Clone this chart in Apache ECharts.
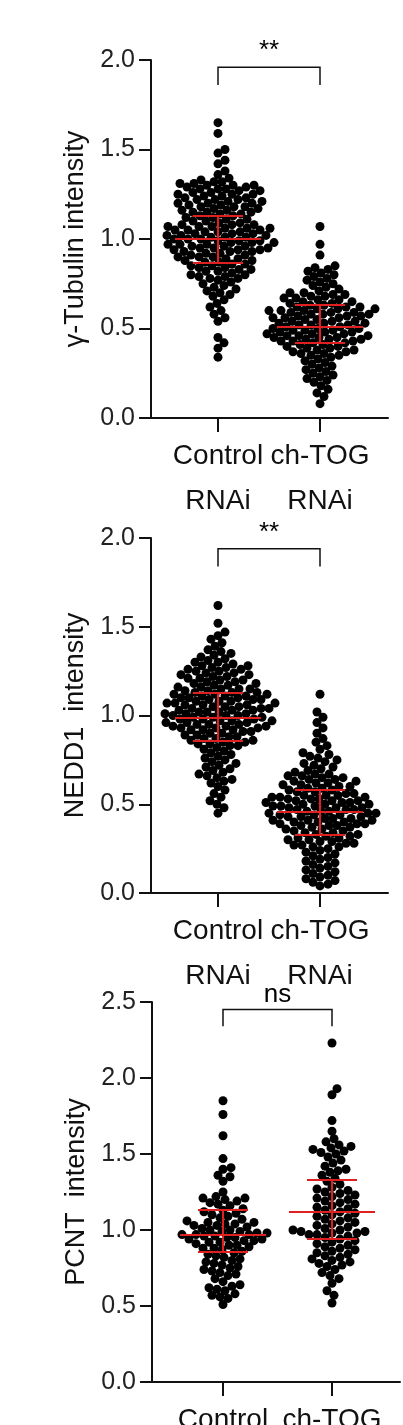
<!DOCTYPE html>
<html lang="en" style="height: 100%">
<head>
    <meta charset="utf-8">
    <script src="https://cdn.jsdelivr.net/npm/echarts@6/dist/echarts.min.js"></script>
</head>
<body style="height: 100%; margin: 0; background: #fff">
<div id="main" style="width: 403px; height: 1425px"></div>
<script type="text/javascript">
    // categories / labels
    const categories = ['Control\nRNAi', 'ch-TOG\nRNAi'];
    const yTitles = ['γ-Tubulin intensity', 'NEDD1  intensity', 'PCNT  intensity'];
    const sigLabels = ['**', '**', 'ns'];

    // panel 1 : gamma-tubulin
    const tubControl = [1.65,1.59,1.50,1.48,1.44,1.42,1.38,1.36,1.34,1.33,1.32,1.32,1.31,1.31,1.30,1.30,1.30,1.29,1.29,1.28,1.28,1.28,1.27,1.27,1.26,1.26,1.25,1.25,1.25,1.24,1.24,1.23,1.23,1.22,1.22,1.22,1.21,1.21,1.20,1.20,1.20,1.19,1.19,1.18,1.18,1.18,1.17,1.17,1.16,1.16,1.15,1.15,1.15,1.14,1.14,1.13,1.13,1.12,1.12,1.11,1.11,1.10,1.10,1.09,1.09,1.08,1.08,1.08,1.07,1.07,1.07,1.06,1.06,1.06,1.05,1.05,1.05,1.04,1.04,1.04,1.03,1.03,1.03,1.02,1.02,1.02,1.01,1.01,1.01,1.00,1.00,1.00,0.99,0.99,0.99,0.98,0.98,0.98,0.97,0.97,0.97,0.96,0.96,0.96,0.95,0.95,0.95,0.94,0.94,0.94,0.93,0.93,0.93,0.92,0.92,0.91,0.91,0.90,0.90,0.90,0.89,0.89,0.88,0.88,0.87,0.87,0.86,0.86,0.85,0.85,0.84,0.84,0.83,0.83,0.82,0.82,0.81,0.80,0.80,0.79,0.79,0.78,0.78,0.77,0.76,0.75,0.74,0.73,0.72,0.71,0.70,0.69,0.68,0.66,0.64,0.62,0.60,0.58,0.56,0.54,0.45,0.42,0.39,0.34];
    const tubTog = [1.07,0.97,0.91,0.85,0.84,0.83,0.82,0.81,0.80,0.79,0.78,0.77,0.76,0.75,0.74,0.73,0.72,0.71,0.70,0.70,0.69,0.69,0.68,0.68,0.67,0.67,0.66,0.66,0.65,0.65,0.64,0.64,0.63,0.63,0.62,0.62,0.62,0.61,0.61,0.61,0.60,0.60,0.60,0.59,0.59,0.59,0.58,0.58,0.58,0.57,0.57,0.57,0.56,0.56,0.56,0.55,0.55,0.54,0.54,0.54,0.53,0.53,0.53,0.52,0.52,0.52,0.51,0.51,0.50,0.50,0.50,0.49,0.49,0.49,0.48,0.48,0.48,0.47,0.47,0.47,0.46,0.46,0.46,0.45,0.45,0.45,0.44,0.44,0.44,0.43,0.43,0.43,0.42,0.42,0.41,0.41,0.40,0.40,0.39,0.39,0.38,0.38,0.37,0.37,0.36,0.36,0.35,0.35,0.34,0.33,0.32,0.31,0.30,0.29,0.28,0.27,0.26,0.25,0.24,0.23,0.22,0.21,0.20,0.18,0.16,0.14,0.12,0.08];

    // panel 2 : NEDD1
    const neddControl = [1.62,1.52,1.47,1.45,1.43,1.41,1.39,1.37,1.36,1.35,1.34,1.33,1.32,1.31,1.30,1.30,1.29,1.28,1.28,1.27,1.27,1.26,1.26,1.25,1.25,1.24,1.24,1.23,1.23,1.22,1.22,1.21,1.21,1.20,1.20,1.19,1.19,1.18,1.18,1.17,1.17,1.16,1.16,1.15,1.15,1.15,1.14,1.14,1.13,1.13,1.13,1.12,1.12,1.12,1.11,1.11,1.11,1.10,1.10,1.10,1.09,1.09,1.09,1.08,1.08,1.08,1.07,1.07,1.07,1.06,1.06,1.06,1.05,1.05,1.05,1.04,1.04,1.04,1.03,1.03,1.03,1.02,1.02,1.02,1.01,1.01,1.01,1.00,1.00,1.00,0.99,0.99,0.99,0.98,0.98,0.98,0.97,0.97,0.97,0.96,0.96,0.96,0.95,0.95,0.95,0.94,0.94,0.94,0.93,0.93,0.93,0.92,0.92,0.92,0.91,0.91,0.90,0.90,0.89,0.89,0.88,0.88,0.87,0.87,0.86,0.86,0.85,0.85,0.84,0.84,0.83,0.83,0.82,0.81,0.80,0.79,0.78,0.77,0.76,0.75,0.74,0.73,0.72,0.71,0.70,0.69,0.68,0.67,0.66,0.65,0.64,0.63,0.62,0.60,0.58,0.56,0.54,0.52,0.50,0.48,0.45];
    const neddTog = [1.12,1.02,0.99,0.96,0.93,0.90,0.87,0.85,0.83,0.81,0.79,0.78,0.77,0.76,0.75,0.74,0.73,0.72,0.71,0.70,0.69,0.68,0.67,0.67,0.66,0.66,0.65,0.65,0.64,0.64,0.63,0.63,0.62,0.62,0.61,0.61,0.60,0.60,0.59,0.59,0.58,0.58,0.57,0.57,0.56,0.56,0.55,0.55,0.55,0.54,0.54,0.54,0.53,0.53,0.53,0.52,0.52,0.52,0.51,0.51,0.51,0.50,0.50,0.50,0.49,0.49,0.49,0.48,0.48,0.48,0.47,0.47,0.47,0.46,0.46,0.46,0.45,0.45,0.45,0.44,0.44,0.44,0.43,0.43,0.43,0.42,0.42,0.42,0.41,0.41,0.41,0.40,0.40,0.40,0.39,0.39,0.39,0.38,0.38,0.38,0.37,0.37,0.36,0.36,0.35,0.35,0.34,0.34,0.33,0.33,0.32,0.32,0.31,0.31,0.30,0.30,0.29,0.29,0.28,0.28,0.27,0.27,0.26,0.26,0.25,0.24,0.23,0.22,0.21,0.20,0.19,0.18,0.17,0.16,0.15,0.14,0.13,0.12,0.11,0.10,0.09,0.08,0.07,0.06,0.05,0.04];

    // panel 3 : PCNT
    const pcntControl = [1.85,1.76,1.62,1.47,1.41,1.40,1.36,1.35,1.32,1.25,1.22,1.21,1.21,1.20,1.19,1.18,1.17,1.16,1.14,1.13,1.12,1.11,1.10,1.09,1.08,1.07,1.06,1.05,1.05,1.04,1.04,1.03,1.03,1.02,1.01,1.00,1.00,0.99,0.99,0.98,0.98,0.97,0.97,0.97,0.96,0.96,0.95,0.95,0.94,0.94,0.93,0.93,0.92,0.92,0.91,0.90,0.90,0.89,0.88,0.88,0.87,0.86,0.85,0.84,0.83,0.82,0.81,0.80,0.79,0.78,0.77,0.76,0.75,0.74,0.73,0.72,0.71,0.70,0.68,0.66,0.64,0.63,0.62,0.61,0.60,0.58,0.57,0.56,0.55,0.51];
    const pcntTog = [2.23,1.93,1.89,1.72,1.65,1.60,1.58,1.56,1.55,1.54,1.53,1.52,1.51,1.50,1.48,1.46,1.44,1.42,1.40,1.39,1.38,1.36,1.34,1.32,1.30,1.28,1.27,1.26,1.25,1.24,1.23,1.22,1.21,1.20,1.19,1.18,1.17,1.16,1.15,1.14,1.13,1.12,1.11,1.10,1.09,1.08,1.07,1.06,1.05,1.04,1.03,1.02,1.01,1.00,1.00,0.99,0.99,0.98,0.98,0.97,0.97,0.96,0.95,0.94,0.93,0.92,0.91,0.90,0.89,0.88,0.87,0.86,0.85,0.84,0.83,0.82,0.81,0.80,0.79,0.78,0.77,0.76,0.74,0.72,0.70,0.68,0.65,0.60,0.57,0.52];

    // mean, lower SD, upper SD for each group
    const tubStats = [[1.00, 0.87, 1.13], [0.51, 0.42, 0.63]];
    const neddStats = [[0.99, 0.86, 1.13], [0.46, 0.33, 0.58]];
    const pcntStats = [[0.97, 0.86, 1.13], [1.12, 0.94, 1.33]];

    const panels = [
        {groups: [tubControl, tubTog], stats: tubStats, top: 60, h: 358, left: 151, w: 237, max: 2, cx: [67, 169], br: [1.96, 1.86], sig: 2.05},
        {groups: [neddControl, neddTog], stats: neddStats, top: 538, h: 355, left: 151, w: 237, max: 2, cx: [67, 169], br: [1.94, 1.84], sig: 2.03},
        {groups: [pcntControl, pcntTog], stats: pcntStats, top: 1002, h: 380, left: 152, w: 248, max: 2.5, cx: [71, 180], br: [2.45, 2.34], sig: 2.55}
    ];

    const R = 4.5;
    const MIN_D = 7.8;   // dots overlap a little, as in the original
    // simple beeswarm: offsets in pixels (x axis unit = 1px)
    function swarm(vals, pxPerUnit) {
        const order = vals.map((v, i) => i).sort((a, b) => vals[a] - vals[b]);
        const placed = [];
        const off = new Array(vals.length);
        for (const i of order) {
            const y = vals[i] * pxPerUnit;
            let best = 0;
            for (let s = 0; s < 200; s++) {
                const cand = s % 2 ? Math.ceil(s / 2) : -s / 2;
                let ok = true;
                for (const p of placed) {
                    const dy = p[1] - y;
                    if (Math.abs(dy) < MIN_D) {
                        const dx = p[0] - cand;
                        if (dx * dx + dy * dy < MIN_D * MIN_D) { ok = false; break; }
                    }
                }
                if (ok) { best = cand; break; }
            }
            placed.push([best, y]);
            off[i] = best;
        }
        return off;
    }

    const font = 'Liberation Sans';
    const grid = [], xAxis = [], yAxis = [], series = [];
    panels.forEach(function (p, k) {
        grid.push({left: p.left, top: p.top, width: p.w, height: p.h, outerBoundsMode: 'none', containLabel: false});
        xAxis.push({
            type: 'value', gridIndex: k, min: 0, max: p.w,
            splitLine: {show: false},
            axisLine: {lineStyle: {color: '#111', width: 2}},
            axisTick: {customValues: p.cx, length: 14, lineStyle: {color: '#111', width: 2}},
            axisLabel: {
                customValues: p.cx, margin: 16, fontSize: 28, fontFamily: font, color: '#111', lineHeight: 45,
                formatter: function (v) { return categories[p.cx.indexOf(v)]; }
            }
        });
        yAxis.push({
            type: 'value', gridIndex: k, min: 0, max: p.max, interval: 0.5,
            name: yTitles[k], nameLocation: 'middle', nameGap: 56,
            nameTextStyle: {fontSize: 27, fontFamily: font, color: '#111'},
            splitLine: {show: false},
            axisLine: {show: true, lineStyle: {color: '#111', width: 2}},
            axisTick: {show: true, inside: false, length: 12, lineStyle: {color: '#111', width: 2}},
            axisLabel: {fontSize: 25, fontFamily: font, color: '#222', margin: 16,
                formatter: function (v) { return v.toFixed(1); }}
        });
        const ppu = p.h / p.max;
        const segs = [];
        p.groups.forEach(function (vals, g) {
            const off = swarm(vals, ppu);
            series.push({
                type: 'scatter', xAxisIndex: k, yAxisIndex: k, symbolSize: 2 * R,
                itemStyle: {color: '#000', opacity: 1}, silent: true,
                data: vals.map((v, i) => [p.cx[g] + off[i], v])
            });
            const c = p.cx[g], st = p.stats[g];
            segs.push({coords: [[c - 43, st[0]], [c + 43, st[0]]]});
            segs.push({coords: [[c - 25, st[1]], [c + 25, st[1]]]});
            segs.push({coords: [[c - 25, st[2]], [c + 25, st[2]]]});
            segs.push({coords: [[c, st[1]], [c, st[2]]]});
        });
        series.push({
            type: 'lines', coordinateSystem: 'cartesian2d', xAxisIndex: k, yAxisIndex: k,
            lineStyle: {color: '#e02020', width: 2, opacity: 1}, silent: true, z: 5, data: segs
        });
        series.push({
            type: 'lines', coordinateSystem: 'cartesian2d', xAxisIndex: k, yAxisIndex: k, polyline: true,
            lineStyle: {color: '#111', width: 1.5, opacity: 1}, silent: true,
            data: [{coords: [[p.cx[0], p.br[1]], [p.cx[0], p.br[0]], [p.cx[1], p.br[0]], [p.cx[1], p.br[1]]]}]
        });
        series.push({
            type: 'scatter', xAxisIndex: k, yAxisIndex: k, symbolSize: 0, clip: false, silent: true, z: 6,
            label: {show: true, position: 'inside', formatter: sigLabels[k], fontSize: 26, fontFamily: font, color: '#000', opacity: 1},
            data: [[(p.cx[0] + p.cx[1]) / 2, p.sig]]
        });
    });

    const chart = echarts.init(document.getElementById('main'));
    chart.setOption({animation: false, grid: grid, xAxis: xAxis, yAxis: yAxis, series: series});
</script>
</body>
</html>
